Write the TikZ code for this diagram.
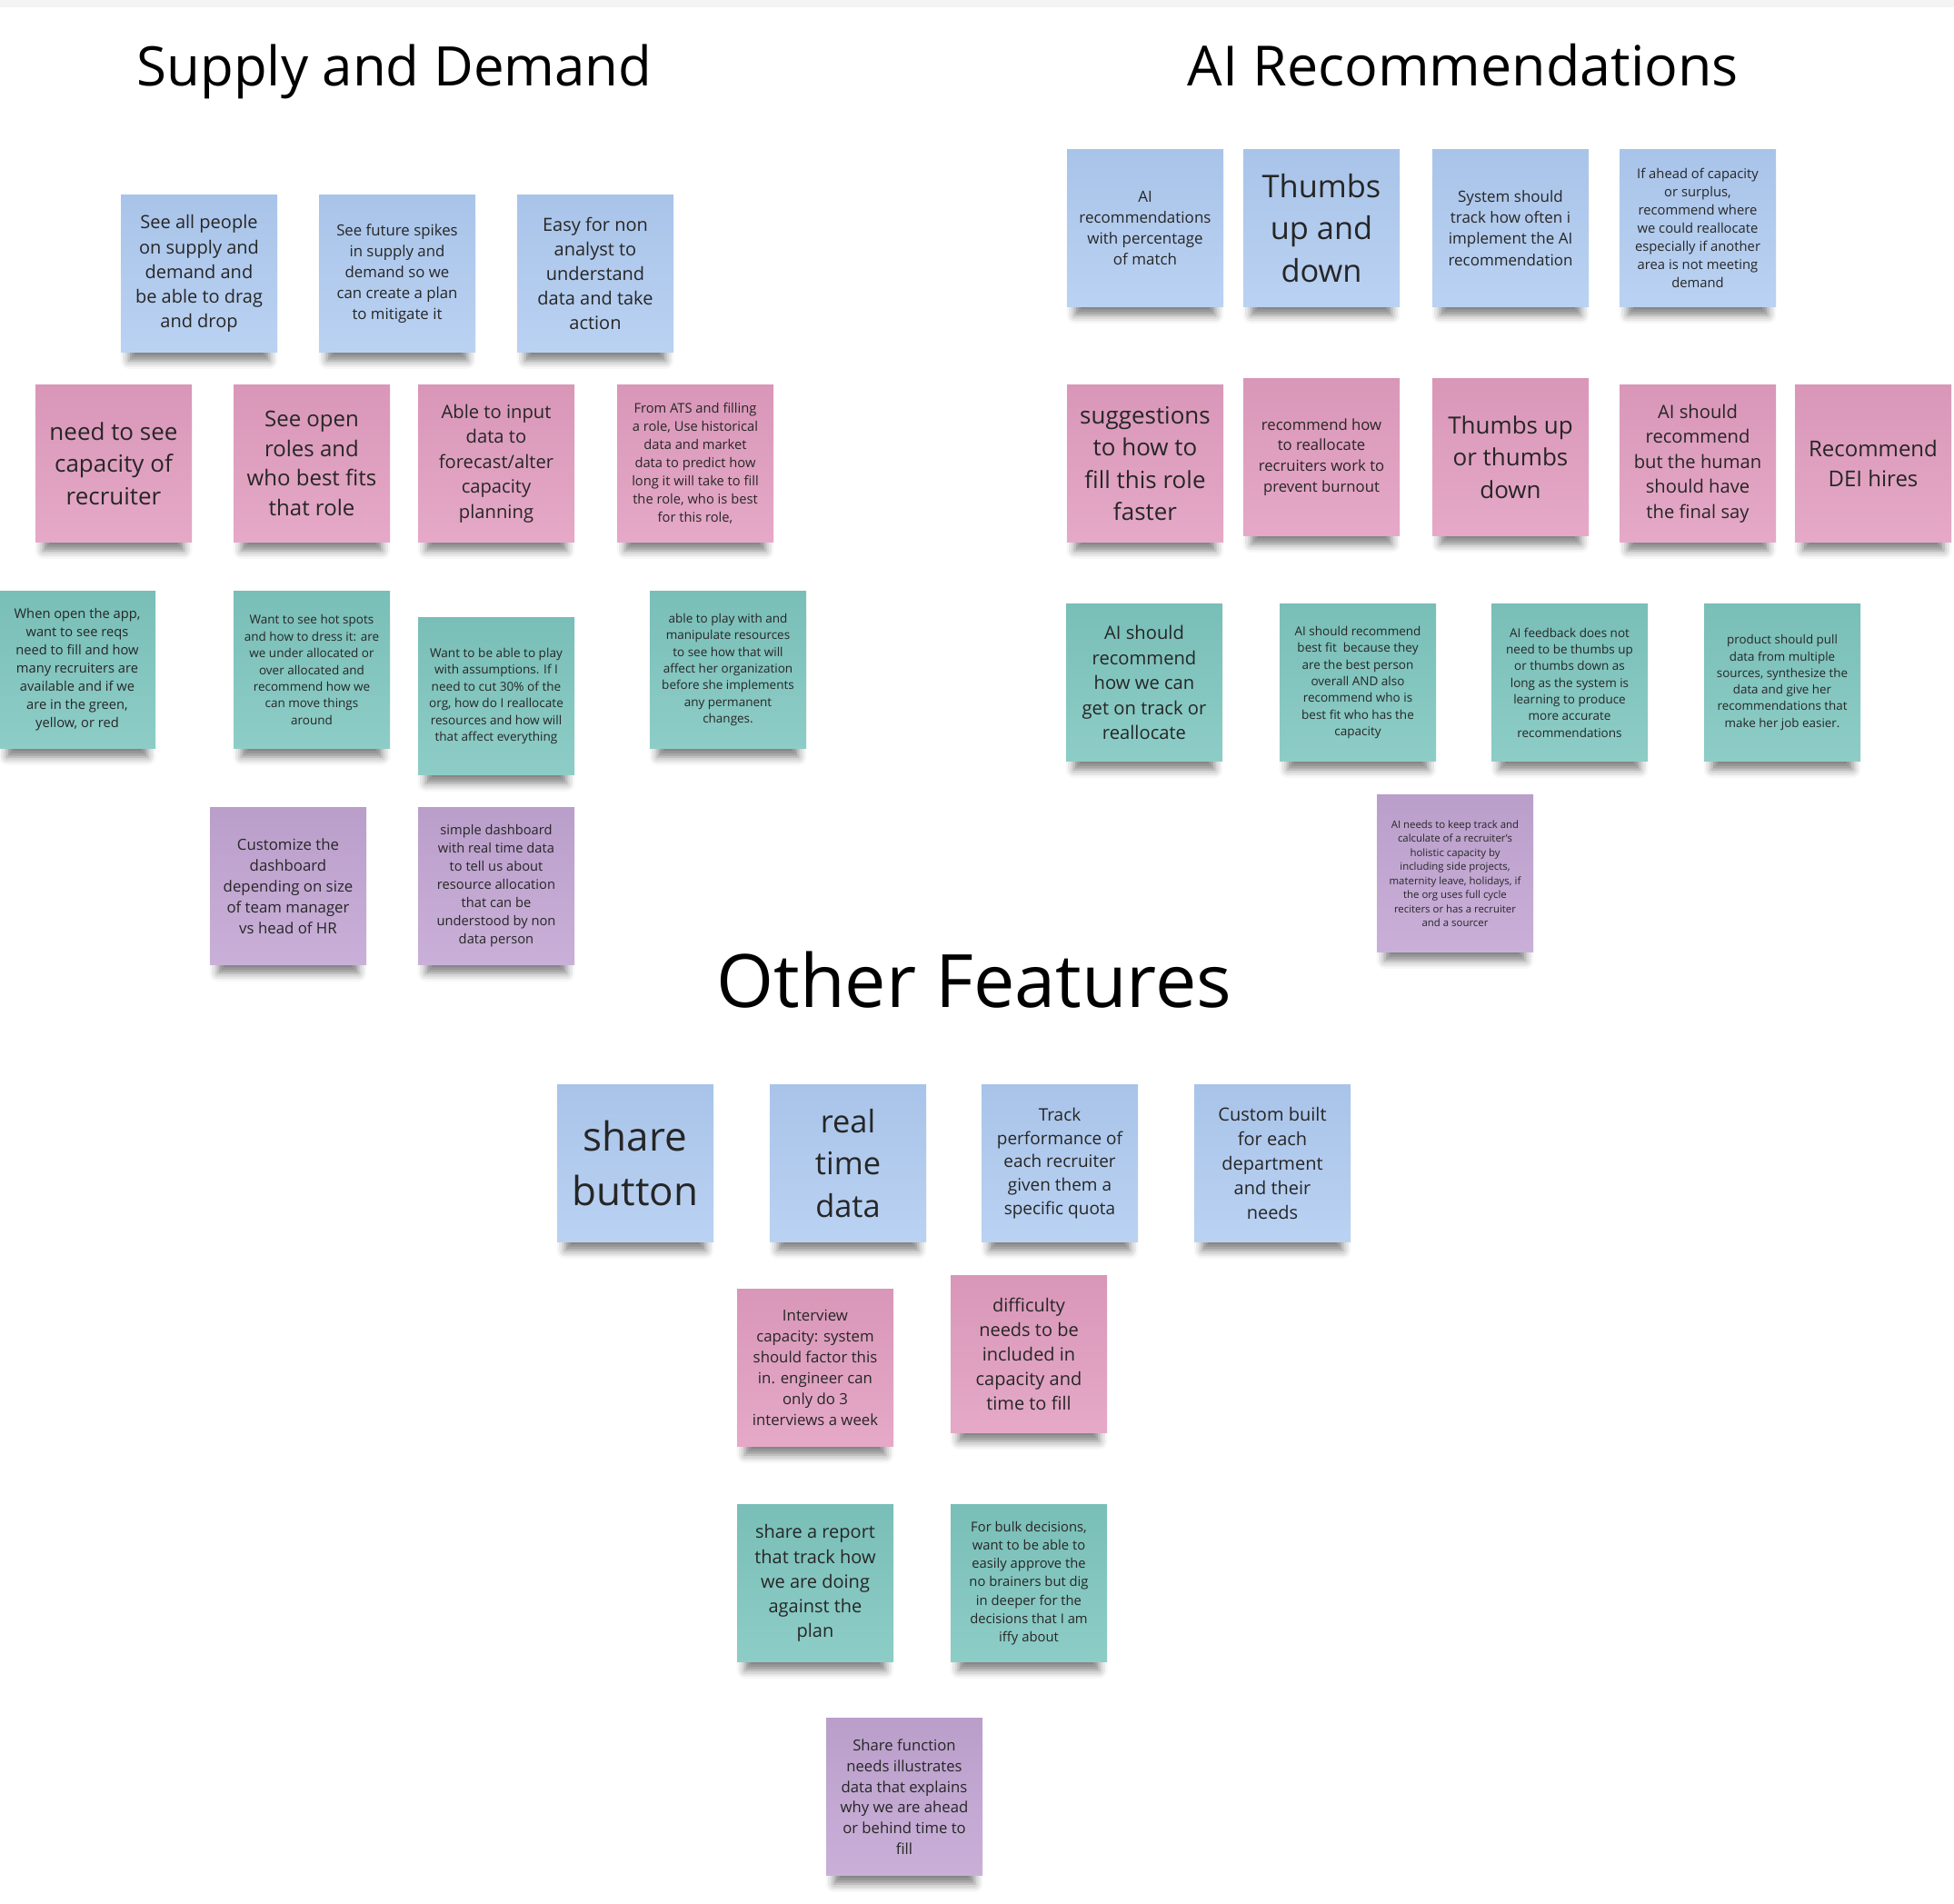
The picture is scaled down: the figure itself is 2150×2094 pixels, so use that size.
\documentclass[tikz,border=0pt]{standalone}
\usepackage{fontspec}
\setmainfont{Open Sans}
\usetikzlibrary{shadows.blur}
\definecolor{NoteBlue}{HTML}{AECAF0}
\definecolor{NotePink}{HTML}{E29DC0}
\definecolor{NoteTeal}{HTML}{7EC6BF}
\definecolor{NotePlum}{HTML}{C2A5D3}
\definecolor{NoteInk}{HTML}{262626}
\definecolor{TopBand}{HTML}{F4F4F4}
\newcommand\notefont[1]{\fontsize{#1pt}{1.36\dimexpr#1pt\relax}\selectfont}

\begin{document}
\begin{tikzpicture}[
 x=0.5pt,y=-0.5pt,
 sticky/.style={minimum width=86pt,minimum height=86.5pt,inner sep=2pt,align=center,
   text=NoteInk,
   blur shadow={shadow xshift=0pt,shadow yshift=-10pt,shadow scale=0.9,
     shadow opacity=50,shadow blur radius=5pt}},
 bluenote/.style={sticky,top color=NoteBlue!97!black,bottom color=NoteBlue!85!white},
 pinknote/.style={sticky,top color=NotePink!96!black,bottom color=NotePink!88!white},
 tealnote/.style={sticky,top color=NoteTeal!96!black,bottom color=NoteTeal!88!white},
 plumnote/.style={sticky,top color=NotePlum!96!black,bottom color=NotePlum!88!white},
 fs/.style={font=\notefont{#1}},
 heading/.style={anchor=base,text=black,font=\fontsize{#1pt}{1.2\dimexpr#1pt\relax}\selectfont}
]
 \useasboundingbox (0,0) rectangle (2150,2094);
 \fill[TopBand] (0,0) rectangle (2150,8);
 % headings
 \node[heading=30] (sdtitle) at (434,94) {Supply and Demand};
 \node[heading=30.5] (aititle) at (1610,94) {AI Recommendations};
 \node[heading=40.5] (oftitle) at (1072,1108) {Other Features};
 % supply and demand
 \node[bluenote,fs=10] (sd1) at (219,301)
   {See all people\\on supply and\\demand and\\be able to drag\\and drop};
 \node[bluenote,fs=8.4] (sd2) at (437,301)
   {See future spikes\\in supply and\\demand so we\\can create a plan\\to mitigate it};
 \node[bluenote,fs=10] (sd3) at (655,301)
   {Easy for non\\analyst to\\understand\\data and take\\action};
 \node[pinknote,fs=13] (sd4) at (125,510) {need to see\\capacity of\\recruiter};
 \node[pinknote,fs=12] (sd5) at (343,510) {See open\\roles and\\who best fits\\that role};
 \node[pinknote,fs=10.1] (sd6) at (546,510)
   {Able to input\\data to\\forecast/alter\\capacity\\planning};
 \node[pinknote,fs=7.35] (sd7) at (765,510)
   {From ATS and filling\\a role, Use historical\\data and market\\data to predict how\\long it will take to fill\\the role, who is best\\for this role,};
 \node[tealnote,fs=7.35] (sd8) at (85,737)
   {When open the app,\\want to see reqs\\need to fill and how\\many recruiters are\\available and if we\\are in the green,\\yellow, or red};
 \node[tealnote,fs=6.75] (sd9) at (343,737)
   {Want to see hot spots\\and how to dress it: are\\we under allocated or\\over allocated and\\recommend how we\\can move things\\around};
 \node[tealnote,fs=6.8] (sd10) at (546,766)
   {Want to be able to play\\with assumptions. If I\\need to cut 30\% of the\\org, how do I reallocate\\resources and how will\\that affect everything};
 \node[tealnote,fs=6.75] (sd11) at (801,737)
   {able to play with and\\manipulate resources\\to see how that will\\affect her organization\\before she implements\\any permanent\\changes.};
 \node[plumnote,fs=8.4] (sd12) at (317,975)
   {Customize the\\dashboard\\depending on size\\of team manager\\vs head of HR};
 \node[plumnote,fs=7.35] (sd13) at (546,975)
   {simple dashboard\\with real time data\\to tell us about\\resource allocation\\that can be\\understood by non\\data person};
 % ai recommendations
 \node[bluenote,fs=8.5] (ai1) at (1260,251)
   {AI\\recommendations\\with percentage\\of match};
 \node[bluenote,fs=17.2] (ai2) at (1454,251) {Thumbs\\up and\\down};
 \node[bluenote,fs=8.5] (ai3) at (1662,251)
   {System should\\track how often i\\implement the AI\\recommendation};
 \node[bluenote,fs=7.4] (ai4) at (1868,251)
   {If ahead of capacity\\or surplus,\\recommend where\\we could reallocate\\especially if another\\area is not meeting\\demand};
 \node[pinknote,fs=13] (ai5) at (1260,510)
   {suggestions\\to how to\\fill this role\\faster};
 \node[pinknote,fs=8.35] (ai6) at (1454,503)
   {recommend how\\to reallocate\\recruiters work to\\prevent burnout};
 \node[pinknote,fs=13] (ai7) at (1662,503) {Thumbs up\\or thumbs\\down};
 \node[pinknote,fs=10.1] (ai8) at (1868,510)
   {AI should\\recommend\\but the human\\should have\\the final say};
 \node[pinknote,fs=12] (ai9) at (2061,510) {Recommend\\DEI hires};
 \node[tealnote,fs=10.1] (ai10) at (1259,751)
   {AI should\\recommend\\how we can\\get on track or\\reallocate};
 \node[tealnote,fs=6.75] (ai11) at (1494,751)
   {AI should recommend\\best fit\ \ because they\\are the best person\\overall AND also\\recommend who is\\best fit who has the\\capacity};
 \node[tealnote,fs=6.75] (ai12) at (1727,751)
   {AI feedback does not\\need to be thumbs up\\or thumbs down as\\long as the system is\\learning to produce\\more accurate\\recommendations};
 \node[tealnote,fs=6.7] (ai13) at (1961,751)
   {product should pull\\data from multiple\\sources, synthesize the\\data and give her\\recommendations that\\make her job easier.};
 \node[plumnote,fs=5.7] (ai14) at (1601,961)
   {AI needs to keep track and\\calculate of a recruiter’s\\holistic capacity by\\including side projects,\\maternity leave, holidays, if\\the org uses full cycle\\reciters or has a recruiter\\and a sourcer};
 % other features
 \node[bluenote,fs=22] (of1) at (699,1280) {share\\button};
 \node[bluenote,fs=17.2] (of2) at (933,1280) {real\\time\\data};
 \node[bluenote,fs=9.5] (of3) at (1166,1280)
   {Track\\performance of\\each recruiter\\given them a\\specific quota};
 \node[bluenote,fs=10] (of4) at (1400,1280)
   {Custom built\\for each\\department\\and their\\needs};
 \node[pinknote,fs=8.4] (of5) at (897,1505)
   {Interview\\capacity: system\\should factor this\\in. engineer can\\only do 3\\interviews a week};
 \node[pinknote,fs=10] (of6) at (1132,1490)
   {difficulty\\needs to be\\included in\\capacity and\\time to fill};
 \node[tealnote,fs=10] (of7) at (897,1742)
   {share a report\\that track how\\we are doing\\against the\\plan};
 \node[tealnote,fs=7.4] (of8) at (1132,1742)
   {For bulk decisions,\\want to be able to\\easily approve the\\no brainers but dig\\in deeper for the\\decisions that I am\\iffy about};
 \node[plumnote,fs=8.35] (of9) at (995,1977)
   {Share function\\needs illustrates\\data that explains\\why we are ahead\\or behind time to\\fill};
\end{tikzpicture}
\end{document}
